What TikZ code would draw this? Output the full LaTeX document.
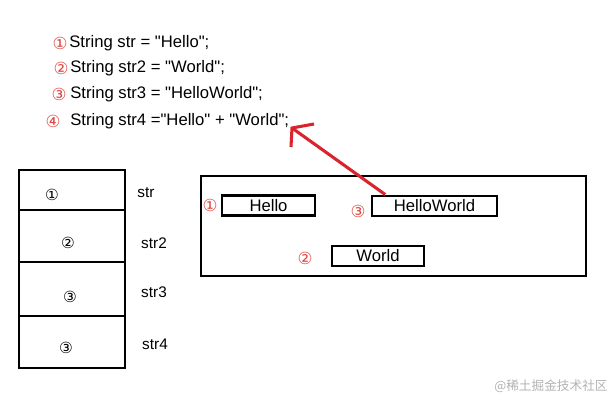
\documentclass[tikz,border=0pt]{standalone}
\usepackage{fontspec}
\setmainfont{Liberation Sans}[Ligatures=TeXOff]
\newfontfamily\symfont{DejaVu Sans}
\newfontfamily\cjkfont{Noto Sans CJK SC}
\definecolor{myred}{HTML}{D9232D}
\definecolor{numred}{HTML}{E0453F}
\begin{document}
\begin{tikzpicture}[x=0.75pt,y=-0.75pt,
  code/.style={anchor=west,inner sep=0pt,font=\fontsize{12.5}{14}\selectfont},
  rnum/.style={inner sep=0pt,text=numred,font=\symfont\fontsize{12.5}{14}\selectfont},
  bnum/.style={inner sep=0pt,text=black,font=\symfont\fontsize{11.5}{13}\selectfont},
  lbl/.style={inner sep=0pt,font=\fontsize{11.5}{13}\selectfont},
  valbox/.style={draw=black,line width=2.2pt,minimum width=#1,minimum height=15pt,inner sep=0pt,font=\fontsize{12.5}{14}\selectfont}]
\useasboundingbox (0,0) rectangle (614,400);

% code lines
\node[rnum] (c1) at (60,43) {①};
\node[code] (l1) at (69,43) {String str = "Hello";};
\node[rnum] (c2) at (61,68) {②};
\node[code] (l2) at (70,68) {String str2 = "World";};
\node[rnum] (c3) at (59,94) {③};
\node[code] (l3) at (70,94) {String str3 = "HelloWorld";};
\node[rnum] (c4) at (53,121) {④};
\node[code] (l4) at (70,121) {String str4 ="Hello" + "World";};

% stack
\draw[line width=2.2pt] (19,170) rectangle (125,368);
\draw[line width=2.2pt] (19,210) -- (125,210);
\draw[line width=2.2pt] (19,262) -- (125,262);
\draw[line width=2.2pt] (19,316) -- (125,316);
\node[bnum] (s1) at (52,195) {①};
\node[bnum] (s2) at (68,243) {②};
\node[bnum] (s3) at (70,297) {③};
\node[bnum] (s4) at (66,348) {③};
\node[lbl] (n1) at (146,193) {str};
\node[lbl] (n2) at (154,243) {str2};
\node[lbl] (n3) at (154,292) {str3};
\node[lbl] (n4) at (155,344) {str4};

% heap
\draw[line width=2.2pt] (201,176) rectangle (586,276);
\node[valbox=69.75pt] (hello) at (268.5,205.5) {Hello};
\node[valbox=93.75pt] (hw) at (434.5,206) {HelloWorld};
\node[valbox=69pt] (world) at (378,256) {World};
\node[rnum] (h1) at (210,205) {①};
\node[rnum] (h3) at (358,211) {③};
\node[rnum] (h2) at (305,258) {②};

% arrow
\coordinate (tip) at (292,128);
\draw[myred,line width=2.3pt] (hw.north west) ++(11pt,0) -- (tip);
\draw[myred,line width=2.3pt] (314,124) -- (tip) -- (291,147);

% watermark
\node[inner sep=0pt,text=black!30,font=\cjkfont\fontsize{9.5}{11}\selectfont] (wm) at (551,386) {@稀土掘金技术社区};
\end{tikzpicture}
\end{document}
